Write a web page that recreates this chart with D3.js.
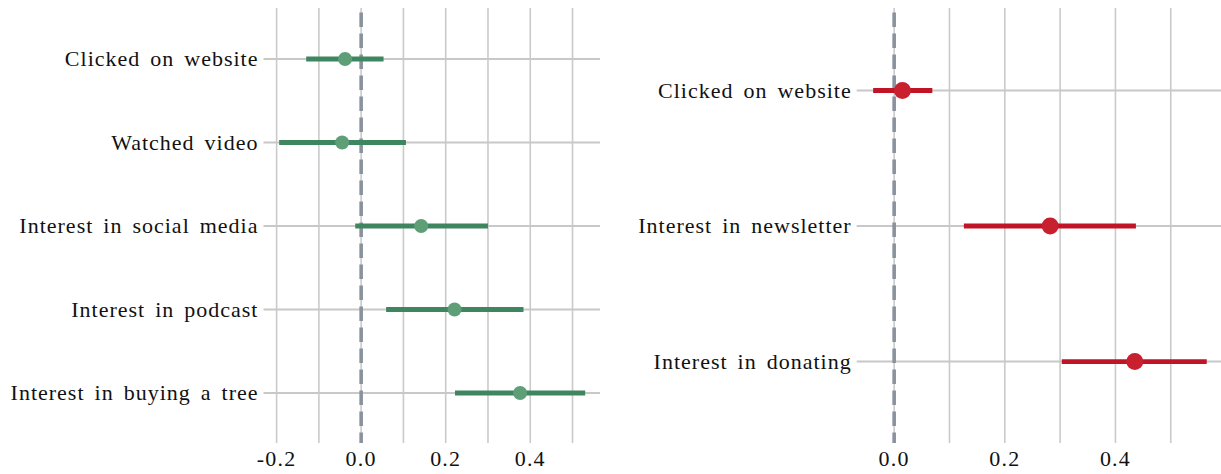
<!DOCTYPE html>
<html>
<head>
<meta charset="utf-8">
<script src="https://cdn.jsdelivr.net/npm/d3@7"></script>
<style>
    body { margin: 0; background: #ffffff; }
    text { font-family: "Liberation Serif", "DejaVu Serif", serif; fill: #111111; }
</style>
</head>
<body>
<div id="chart"></div>
<script>
// Left panel data (green)
var leftLabels = ["Clicked on website", "Watched video", "Interest in social media", "Interest in podcast", "Interest in buying a tree"];
var leftEst = [-0.038, -0.045, 0.142, 0.221, 0.376];
var leftLow = [-0.130, -0.194, -0.014, 0.059, 0.222];
var leftHigh = [0.053, 0.106, 0.300, 0.384, 0.530];

// Right panel data (red)
var rightLabels = ["Clicked on website", "Interest in newsletter", "Interest in donating"];
var rightEst = [0.015, 0.282, 0.435];
var rightLow = [-0.038, 0.126, 0.303];
var rightHigh = [0.069, 0.437, 0.565];

// Axis ticks
var tickLabels = [-0.2, 0.0, 0.2, 0.4];
var gridValues = [-0.2, -0.1, 0.0, 0.1, 0.2, 0.3, 0.4, 0.5];

var svgWidth = 1221;
var svgHeight = 474;

var svg = d3.select("#chart")
    .append("svg")
    .attr("width", svgWidth)
    .attr("height", svgHeight);

var panels = [
    {
        labels: leftLabels, est: leftEst, low: leftLow, high: leftHigh,
        xDomain: [-0.231, 0.565], xRange: [263.5, 600],
        yDomain: [-0.611, 4.527],
        line: "#3e8660", dot: "#5e9f78", r: 7
    },
    {
        labels: rightLabels, est: rightEst, low: rightLow, high: rightHigh,
        xDomain: [-0.0677, 0.5908], xRange: [856.7, 1221],
        yDomain: [-0.609, 2.557],
        line: "#c11426", dot: "#c8202f", r: 8.5
    }
];

var plotTop = 8, plotBottom = 437, tickLen = 6;

panels.forEach(function (p) {

    var xScale = d3.scaleLinear().domain(p.xDomain).range(p.xRange);
    var yScale = d3.scaleLinear().domain(p.yDomain).range([plotTop, plotBottom]);

    var g = svg.append("g");

    // vertical grid (ticks drawn in grid colour too)
    var grid = gridValues.filter(function (v) { return xScale(v) >= p.xRange[0] && xScale(v) <= p.xRange[1]; });
    g.selectAll(".vgrid")
        .data(grid)
        .enter()
        .append("line")
        .attr("x1", d => xScale(d))
        .attr("x2", d => xScale(d))
        .attr("y1", plotTop)
        .attr("y2", plotBottom + tickLen)
        .attr("stroke", "#cacaca")
        .attr("stroke-width", 1.6);

    // horizontal grid, one per category
    var idx = d3.range(p.labels.length);
    g.selectAll(".hgrid")
        .data(idx)
        .enter()
        .append("line")
        .attr("x1", p.xRange[0])
        .attr("x2", p.xRange[1])
        .attr("y1", d => yScale(d))
        .attr("y2", d => yScale(d))
        .attr("stroke", "#c8c8c8")
        .attr("stroke-width", 2);

    // zero reference line
    g.append("line")
        .attr("x1", xScale(0))
        .attr("x2", xScale(0))
        .attr("y1", plotTop + 4.5)
        .attr("y2", plotBottom + tickLen)
        .attr("stroke", "#8a929e")
        .attr("stroke-width", 3.6)
        .attr("stroke-dasharray", "14.5,6.5");

    // confidence intervals
    g.selectAll(".ci")
        .data(idx)
        .enter()
        .append("line")
        .attr("x1", d => xScale(p.low[d]))
        .attr("x2", d => xScale(p.high[d]))
        .attr("y1", d => yScale(d))
        .attr("y2", d => yScale(d))
        .attr("stroke", p.line)
        .attr("stroke-width", 4.8);

    // point estimates
    g.selectAll(".dot")
        .data(idx)
        .enter()
        .append("circle")
        .attr("cx", d => xScale(p.est[d]))
        .attr("cy", d => yScale(d))
        .attr("r", p.r)
        .attr("fill", p.dot);

    // category labels (spaced out to get closer to the LaTeX look)
    g.selectAll(".ylab")
        .data(idx)
        .enter()
        .append("text")
        .attr("x", p.xRange[0] - 5)
        .attr("y", d => yScale(d))
        .attr("dy", "0.33em")
        .attr("text-anchor", "end")
        .attr("font-size", 22)
        .attr("letter-spacing", 1)
        .attr("word-spacing", 3.5)
        .text(d => p.labels[d]);

    // x tick labels
    var ticks = tickLabels.filter(function (v) { return xScale(v) >= p.xRange[0]; });
    g.selectAll(".xlab")
        .data(ticks)
        .enter()
        .append("text")
        .attr("x", d => xScale(d))
        .attr("y", 466)
        .attr("text-anchor", "middle")
        .attr("font-size", 22)
        .attr("letter-spacing", 1.2)
        .text(d => d3.format(".1f")(d).replace("−", "-"));
});
</script>
</body>
</html>
